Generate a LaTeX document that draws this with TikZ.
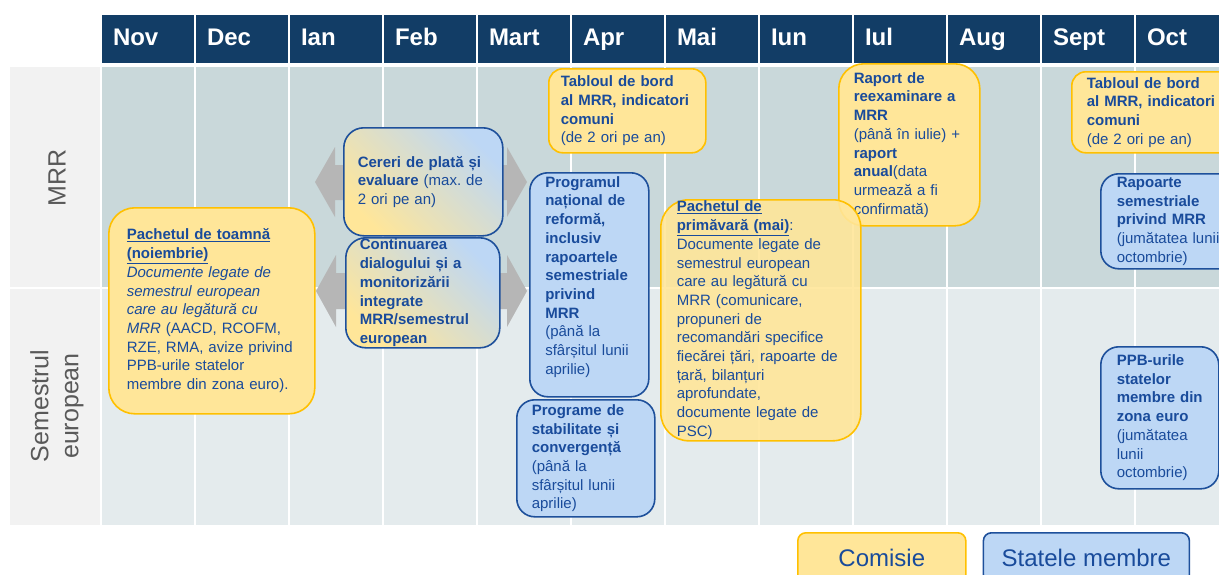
\documentclass[tikz,border=0pt]{standalone}
\usepackage{fontspec}
\setmainfont{Liberation Sans}
\usepackage{tikz}
\usetikzlibrary{positioning}
\definecolor{headcolor}{RGB}{18,61,102}
\definecolor{mrrcolor}{RGB}{201,216,218}
\definecolor{semcolor}{RGB}{228,235,237}
\definecolor{labelcolor}{RGB}{242,242,242}
\definecolor{labeltext}{RGB}{89,89,89}
\definecolor{comfill}{RGB}{255,230,153}
\definecolor{comdraw}{RGB}{255,192,0}
\definecolor{msfill}{RGB}{189,215,245}
\definecolor{msdraw}{RGB}{30,80,155}
\definecolor{boxtext}{RGB}{25,75,155}
\definecolor{arrowgray}{RGB}{182,182,182}
\tikzset{
  month/.style={fill=headcolor, text=white, font=\fontsize{24}{28}\selectfont\bfseries,
                minimum width=92pt, minimum height=48pt, text width=70pt,
                text height=17pt, text depth=5pt,
                inner xsep=11pt, outer sep=1pt, align=left},
  rowlabel/.style={text=labeltext, font=\fontsize{25}{30}\selectfont, rotate=90,
                   align=center},
  gridline/.style={draw=white, line width=2pt},
  bigarrow/.style={fill=arrowgray},
  combox/.style={draw=comdraw, fill=comfill, line width=1.6pt, rounded corners=18pt,
                 anchor=north west, align=left, text=boxtext, inner ysep=0pt,
                 font=\fontsize{15}{18.7}\selectfont},
  msbox/.style={combox, draw=msdraw, fill=msfill},
  mixbox/.style={combox, draw=msdraw, top color=comfill, bottom color=msfill,
                 shading angle=135},
  legend/.style={inner sep=0pt, align=center, font=\fontsize{24}{28}\selectfont,
                 rounded corners=8pt, minimum height=50pt},
}

\begin{document}
\begin{tikzpicture}[x=1pt, y=-1pt]
  \useasboundingbox (0,0) rectangle (1219,574);
  \clip (0,0) rectangle (1219,574);

  % months
  \node[month, anchor=north west] (nov) at (101,14) {Nov};
  \node[month, right=0pt of nov] (dec) {Dec};
  \node[month, right=0pt of dec] (ian) {Ian};
  \node[month, right=0pt of ian] (feb) {Feb};
  \node[month, right=0pt of feb] (mart) {Mart};
  \node[month, right=0pt of mart] (apr) {Apr};
  \node[month, right=0pt of apr] (mai) {Mai};
  \node[month, right=0pt of mai] (iun) {Iun};
  \node[month, right=0pt of iun] (iul) {Iul};
  \node[month, right=0pt of iul] (aug) {Aug};
  \node[month, right=0pt of aug] (sept) {Sept};
  \node[month, right=0pt of sept] (oct) {Oct};

  % rows
  \coordinate (bodytop) at (0,67);
  \coordinate (bodybot) at (0,525);
  \fill[labelcolor] (10,67) rectangle (102,525);
  \fill[mrrcolor] (102,67) rectangle (1219,288);
  \fill[semcolor] (102,288) rectangle (1219,525);
  \draw[gridline] (10,288) -- (1219,288);
  \draw[gridline] (nov.west |- bodytop) -- (nov.west |- bodybot);
  \draw[gridline] (dec.west |- bodytop) -- (dec.west |- bodybot);
  \draw[gridline] (ian.west |- bodytop) -- (ian.west |- bodybot);
  \draw[gridline] (feb.west |- bodytop) -- (feb.west |- bodybot);
  \draw[gridline] (mart.west |- bodytop) -- (mart.west |- bodybot);
  \draw[gridline] (apr.west |- bodytop) -- (apr.west |- bodybot);
  \draw[gridline] (mai.west |- bodytop) -- (mai.west |- bodybot);
  \draw[gridline] (iun.west |- bodytop) -- (iun.west |- bodybot);
  \draw[gridline] (iul.west |- bodytop) -- (iul.west |- bodybot);
  \draw[gridline] (aug.west |- bodytop) -- (aug.west |- bodybot);
  \draw[gridline] (sept.west |- bodytop) -- (sept.west |- bodybot);
  \draw[gridline] (oct.west |- bodytop) -- (oct.west |- bodybot);

  \node[rowlabel] (mrrlabel) at (57,178) {MRR};
  \node[rowlabel] (semlabel) at (57,406) {Semestrul\\european};

  % grey arrows
  \fill[bigarrow] (315,182) -- (335,147) -- (335,165) -- (507,165) -- (507,147)
    -- (527,182) -- (507,217) -- (507,200) -- (335,200) -- (335,217) -- cycle;
  \fill[bigarrow] (316,291) -- (336,255) -- (336,273) -- (507,273) -- (507,255)
    -- (527,291) -- (507,327) -- (507,309) -- (336,309) -- (336,327) -- cycle;

  % Comisie / Statele membre
  \node[combox, rounded corners=26pt, minimum height=206pt, text width=170pt,
        inner xsep=18pt] (toamna) at (108,207)
    {\underline{\textbf{Pachetul de toamnă}}\\
     \underline{\textbf{(noiembrie)}}\\
     \textit{Documente legate de}\\
     \textit{semestrul european}\\
     \textit{care au legătură cu}\\
     \textit{MRR} (AACD, RCOFM,\\
     RZE, RMA, avize privind\\
     PPB-urile statelor\\
     membre din zona euro).};
  \node[mixbox, rounded corners=20pt, minimum height=108pt, text width=131pt,
        inner xsep=14pt] (cereri) at (343,127)
    {\textbf{Cereri de plată și}\\
     \textbf{evaluare} (max.\ de\\
     2 ori pe an)};
  \node[mixbox, rounded corners=20pt, minimum height=110pt, text width=126pt,
        inner xsep=14pt] (dialog) at (345,237)
    {\textbf{Continuarea\\dialogului și a\\monitorizării\\integrate\\MRR/semestrul\\european}};
  \node[msbox, minimum height=224pt, text width=88pt, inner xsep=15.5pt,
        text depth=206pt] (pnr) at (529,172)
    {\textbf{Programul\\național de\\reformă,\\inclusiv\\rapoartele\\semestriale\\privind\\MRR}\\
     (până la\\sfârșitul lunii\\aprilie)};
  \node[msbox, minimum height=117pt, text width=108pt, inner xsep=15pt]
    (stabilitate) at (516,399)
    {\textbf{Programe de\\stabilitate și\\convergență}\\(până la\\sfârșitul lunii\\aprilie)};
  \node[combox, rounded corners=14pt, minimum height=84pt, text width=133pt,
        inner xsep=12pt] (tablou1) at (548,68)
    {\textbf{Tabloul de bord\\al MRR, indicatori\\comuni}\\(de 2 ori pe an)};
  \node[combox, rounded corners=25pt, minimum height=162pt, text width=111pt,
        inner xsep=15pt] (raport) at (838,63)
    {\textbf{Raport de\\reexaminare a\\MRR}\\(până în iulie) +\\\textbf{raport}\\
     \textbf{anual}(data\\urmează a fi\\confirmată)};
  \node[combox, rounded corners=28pt, minimum height=241pt, text width=168pt,
        inner xsep=16pt, fill opacity=0.9, text opacity=1] (primavara) at (660,199)
    {\underline{\textbf{Pachetul de}}\\
     \underline{\textbf{primăvară (mai)}}:\\
     Documente legate de\\semestrul european\\care au legătură cu\\
     MRR (comunicare,\\propuneri de\\recomandări specifice\\
     fiecărei țări, rapoarte de\\țară, bilanțuri\\aprofundate,\\
     documente legate de\\PSC)};
  \node[combox, rounded corners=14pt, minimum height=81pt, text width=136pt,
        inner xsep=15pt] (tablou2) at (1071,71)
    {\textbf{Tabloul de bord\\al MRR, indicatori\\comuni}\\(de 2 ori pe an)};
  \node[msbox, minimum height=95pt, text width=110pt, inner xsep=16pt]
    (rapoarte) at (1100,173)
    {\textbf{Rapoarte\\semestriale\\privind MRR}\\(jumătatea lunii\\octombrie)};
  \node[msbox, minimum height=142pt, text width=86pt, inner xsep=16pt]
    (ppb) at (1100,346)
    {\textbf{PPB-urile\\statelor\\membre din\\zona euro}\\(jumătatea\\lunii\\octombrie)};

  % legenda
  \node[combox, legend, minimum width=168pt] (comisie) at (797,532) {Comisie};
  \node[msbox, legend, minimum width=206pt, right=16pt of comisie]
    (statele) {Statele membre};

\end{tikzpicture}
\end{document}
